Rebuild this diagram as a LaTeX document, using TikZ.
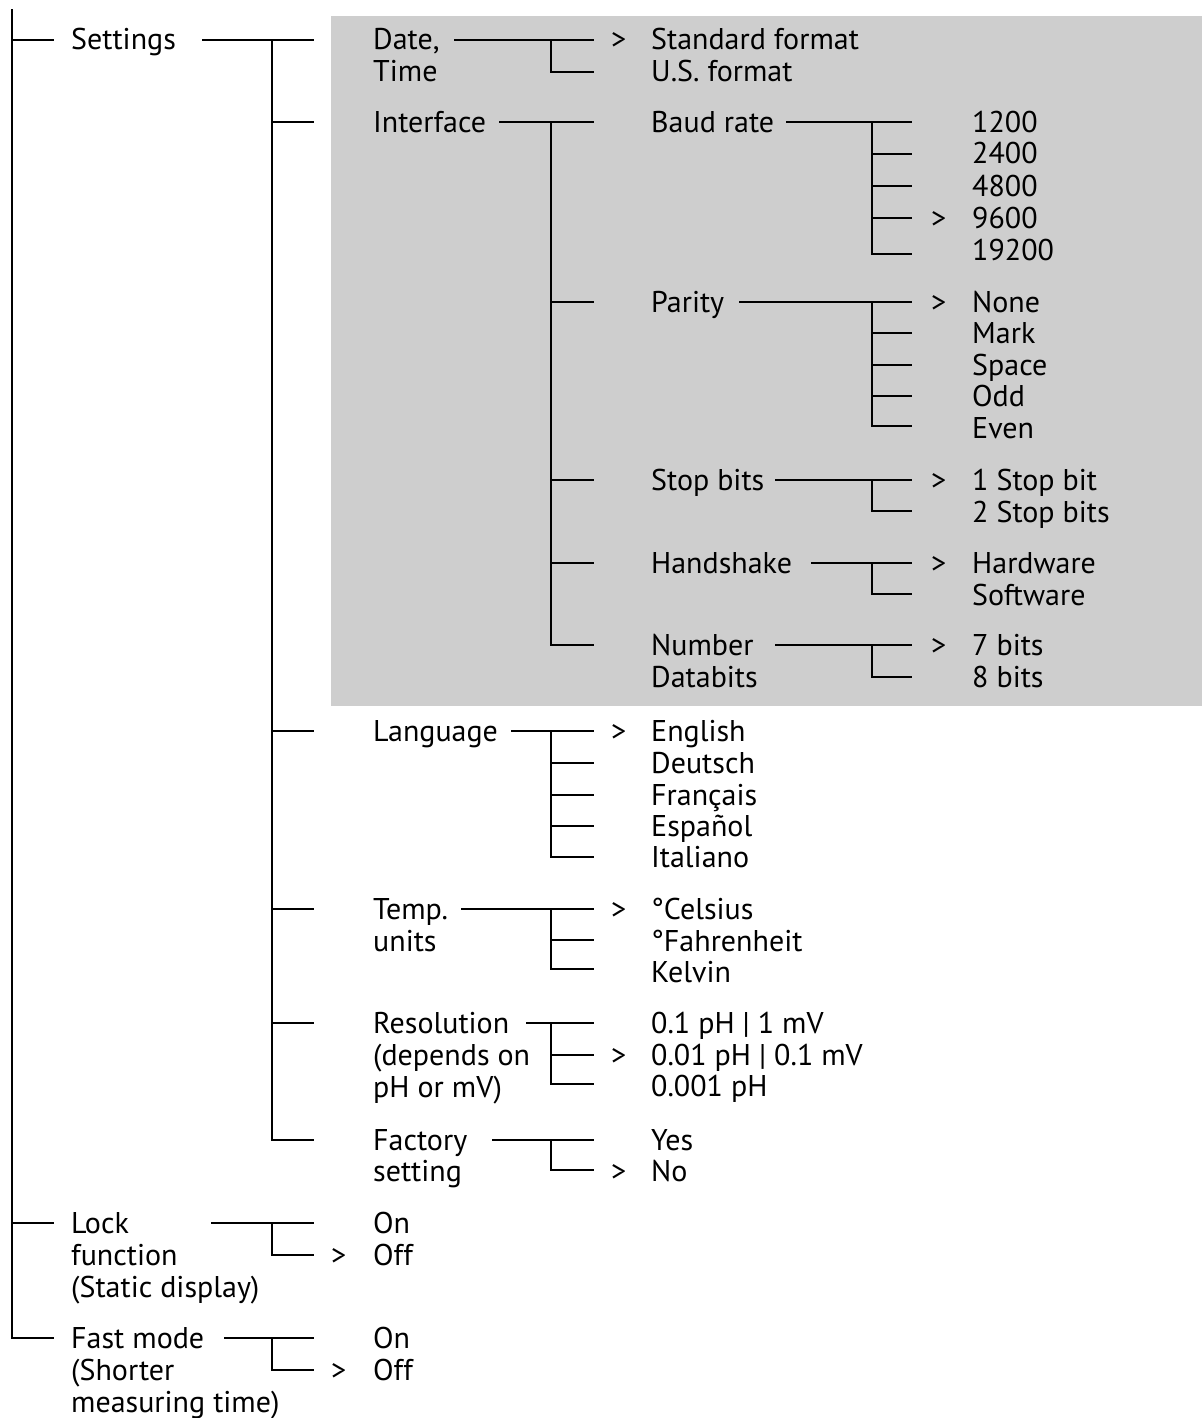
\documentclass[tikz,border=0pt]{standalone}
\usepackage{fontspec}
\setmainfont{PT Sans}
\definecolor{boxgray}{RGB}{206,206,206}
\newcommand\mfont{\fontsize{30}{32}\selectfont}
\newcommand\T[4]{\node[lbl] (#1) at (#2,#3+10) {#4};}
\begin{document}
\begin{tikzpicture}[x=1pt,y=-1pt,
  lbl/.style={anchor=base west,inner sep=0pt,font=\mfont},
  sel/.style={anchor=base west,inner sep=0pt,font=\mfont},
  ln/.style={line width=1.6pt,line cap=rect}]
\useasboundingbox[fill=white] (0,0) rectangle (1202,1418);
\fill[boxgray] (331,16) rectangle (1202,706);
% level 1
\T{settings}{71}{40}{Settings}
\T{lock1}{71}{1223}{Lock}
\T{lock2}{71}{1255}{function}
\T{lock3}{71}{1287}{(Static display)}
\T{fast1}{71}{1338}{Fast mode}
\T{fast2}{71}{1370}{(Shorter}
\T{fast3}{71}{1402}{measuring time)}
% level 2
\T{date1}{373}{40}{Date,}
\T{date2}{373}{72}{Time}
\T{iface}{373}{122}{Interface}
\T{lang}{373}{731}{Language}
\T{temp1}{373}{909}{Temp.}
\T{temp2}{373}{941}{units}
\T{res1}{373}{1023}{Resolution}
\T{res2}{373}{1055}{(depends on}
\T{res3}{373}{1087}{pH or mV)}
\T{fac1}{373}{1140}{Factory}
\T{fac2}{373}{1171}{setting}
\T{lockon}{373}{1223}{On}
\T{lockoff}{373}{1255}{Off}
\T{lockgt}{331}{1255}{>}
\T{faston}{373}{1338}{On}
\T{fastoff}{373}{1370}{Off}
\T{fastgt}{331}{1370}{>}
% level 3
\T{std}{651}{40}{Standard format}
\T{stdgt}{611}{40}{>}
\T{us}{651}{72}{U.S. format}
\T{baud}{651}{122}{Baud rate}
\T{parity}{651}{302}{Parity}
\T{stop}{651}{480}{Stop bits}
\T{hand}{651}{563}{Handshake}
\T{num1}{651}{645}{Number}
\T{num2}{651}{677}{Databits}
\T{en}{651}{731}{English}
\T{engt}{611}{731}{>}
\T{de}{651}{763}{Deutsch}
\T{fr}{651}{795}{Français}
\T{es}{651}{826}{Español}
\T{it}{651}{857}{Italiano}
\T{cel}{651}{909}{°Celsius}
\T{celgt}{611}{909}{>}
\T{fah}{651}{941}{°Fahrenheit}
\T{kel}{651}{972}{Kelvin}
\T{r1}{651}{1023}{0.1 pH | 1 mV}
\T{r2}{651}{1055}{0.01 pH | 0.1 mV}
\T{r2gt}{611}{1055}{>}
\T{r3}{651}{1086}{0.001 pH}
\T{yes}{651}{1140}{Yes}
\T{no}{651}{1171}{No}
\T{nogt}{611}{1171}{>}
% level 4
\T{b1}{972}{122}{1200}
\T{b2}{972}{154}{2400}
\T{b3}{972}{186}{4800}
\T{b4}{972}{218}{9600}
\T{b4gt}{931}{218}{>}
\T{b5}{972}{250}{19200}
\T{p1}{972}{302}{None}
\T{p1gt}{931}{302}{>}
\T{p2}{972}{333}{Mark}
\T{p3}{972}{365}{Space}
\T{p4}{972}{396}{Odd}
\T{p5}{972}{428}{Even}
\T{s1}{972}{480}{1 Stop bit}
\T{s1gt}{931}{480}{>}
\T{s2}{972}{512}{2 Stop bits}
\T{h1}{972}{563}{Hardware}
\T{h1gt}{931}{563}{>}
\T{h2}{972}{595}{Software}
\T{n1}{972}{645}{7 bits}
\T{n1gt}{931}{645}{>}
\T{n2}{972}{677}{8 bits}
% lines
\begin{scope}[ln]
\draw (12,10) -- (12,1338) -- (53,1338);
\draw (12,40) -- (53,40);
\draw (12,1223) -- (53,1223);
% settings
\draw (203,40) -- (313,40);
\draw (272,40) -- (272,1140) -- (313,1140);
\foreach \y in {122,731,909,1023} \draw (272,\y) -- (313,\y);
% lock & fast
\draw (212,1223) -- (313,1223);
\draw (272,1223) -- (272,1255) -- (313,1255);
\draw (225,1338) -- (313,1338);
\draw (272,1338) -- (272,1370) -- (313,1370);
% date
\draw (455,40) -- (593,40);
\draw (551,40) -- (551,72) -- (593,72);
% interface
\draw (500,122) -- (593,122);
\draw (551,122) -- (551,645) -- (593,645);
\foreach \y in {302,480,563} \draw (551,\y) -- (593,\y);
% language
\draw (512,731) -- (593,731);
\draw (551,731) -- (551,857) -- (593,857);
\foreach \y in {763,795,826} \draw (551,\y) -- (593,\y);
% temp
\draw (462,909) -- (593,909);
\draw (551,909) -- (551,969) -- (593,969);
\draw (551,940) -- (593,940);
% resolution
\draw (527,1023) -- (593,1023);
\draw (551,1023) -- (551,1084) -- (593,1084);
\draw (551,1055) -- (593,1055);
% factory
\draw (493,1140) -- (593,1140);
\draw (551,1140) -- (551,1170) -- (593,1170);
% baud
\draw (787,122) -- (911,122);
\draw (872,122) -- (872,254) -- (911,254);
\foreach \y in {154,186,218} \draw (872,\y) -- (911,\y);
% parity
\draw (740,302) -- (911,302);
\draw (872,302) -- (872,426) -- (911,426);
\foreach \y in {333,365,396} \draw (872,\y) -- (911,\y);
% stop
\draw (776,480) -- (911,480);
\draw (872,480) -- (872,511) -- (911,511);
% handshake
\draw (812,563) -- (911,563);
\draw (872,563) -- (872,594) -- (911,594);
% number
\draw (776,645) -- (911,645);
\draw (872,645) -- (872,677) -- (911,677);
\end{scope}
\end{tikzpicture}
\end{document}
